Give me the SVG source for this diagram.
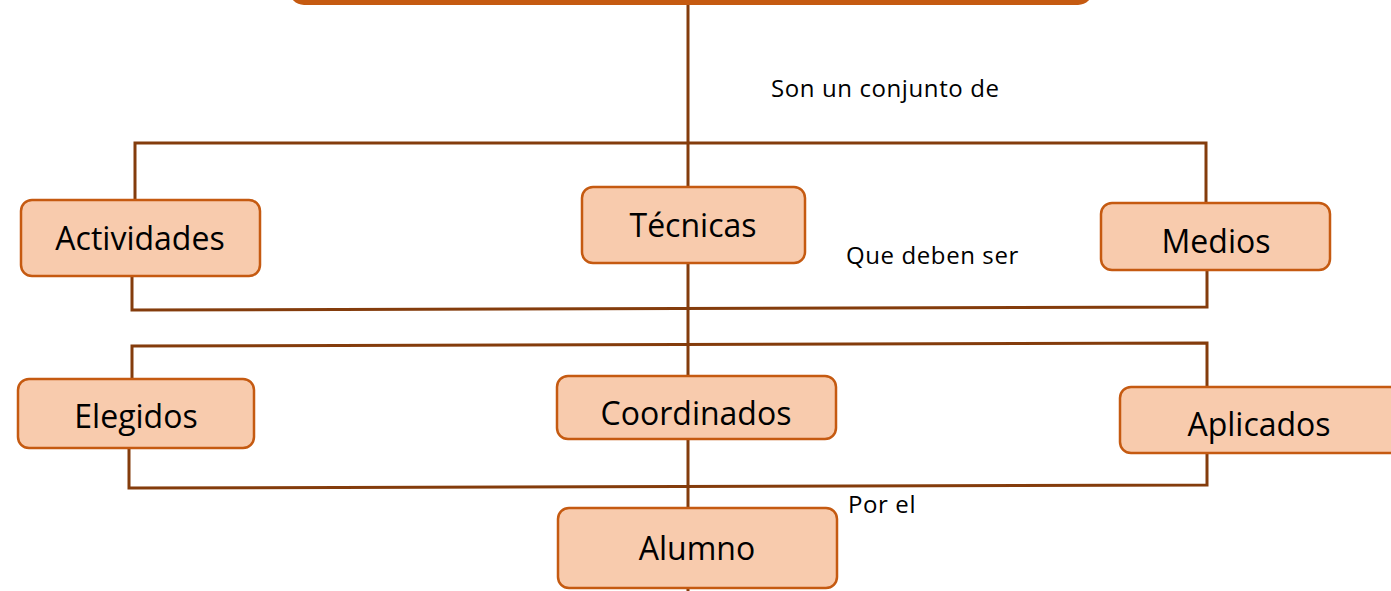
<svg xmlns="http://www.w3.org/2000/svg" width="1391" height="591" viewBox="0 0 1391 591">
<style>
.node{fill:#F8CBAD;stroke:#C55A11;stroke-width:2.5}
.lbl{font-family:"Open Sans",Lato,sans-serif;font-size:32px;fill:#000;text-anchor:middle}
.cap{font-family:"Open Sans",Lato,sans-serif;font-size:24px;letter-spacing:0.6px;fill:#000}
.ln{stroke:#843C0C;stroke-width:3;fill:none}
</style>
<rect width="1391" height="591" fill="#fff"/>
<g id="connectors">
<line class="ln" x1="688" y1="4" x2="688" y2="591"/>
<polyline class="ln" points="135,201 135,143 1206,143 1206,204"/>
<polyline class="ln" points="132,276 132,310 1207,307 1207,270"/>
<polyline class="ln" points="132,379 132,346 1207,343 1207,387"/>
<polyline class="ln" points="129,448 129,488 1207,485 1207,453"/>
</g>
<g id="top"><rect x="290" y="-60" width="802" height="64" rx="14" fill="#C55A11" stroke="#C55A11" stroke-width="2"/></g>
<g id="n-actividades"><rect class="node" x="21" y="200" width="239" height="76" rx="11"/><text class="lbl" x="140" y="250">Actividades</text></g>
<g id="n-tecnicas"><rect class="node" x="582" y="187" width="223" height="76" rx="11"/><text class="lbl" x="693" y="237">Técnicas</text></g>
<g id="n-medios"><rect class="node" x="1101" y="203" width="229" height="67" rx="11"/><text class="lbl" x="1216" y="253">Medios</text></g>
<g id="n-elegidos"><rect class="node" x="18" y="379" width="236" height="69" rx="11"/><text class="lbl" x="136" y="428">Elegidos</text></g>
<g id="n-coordinados"><rect class="node" x="557" y="376" width="279" height="63" rx="11"/><text class="lbl" x="696" y="425">Coordinados</text></g>
<g id="n-aplicados"><rect class="node" x="1120" y="387" width="285" height="66" rx="11"/><text class="lbl" x="1259" y="436">Aplicados</text></g>
<g id="n-alumno"><rect class="node" x="558" y="508" width="279" height="80" rx="11"/><text class="lbl" x="697" y="560">Alumno</text></g>
<g id="labels">
<text class="cap" x="771" y="97">Son un conjunto de</text>
<text class="cap" x="846" y="264">Que deben ser</text>
<text class="cap" x="848" y="513">Por el</text>
</g>
</svg>
